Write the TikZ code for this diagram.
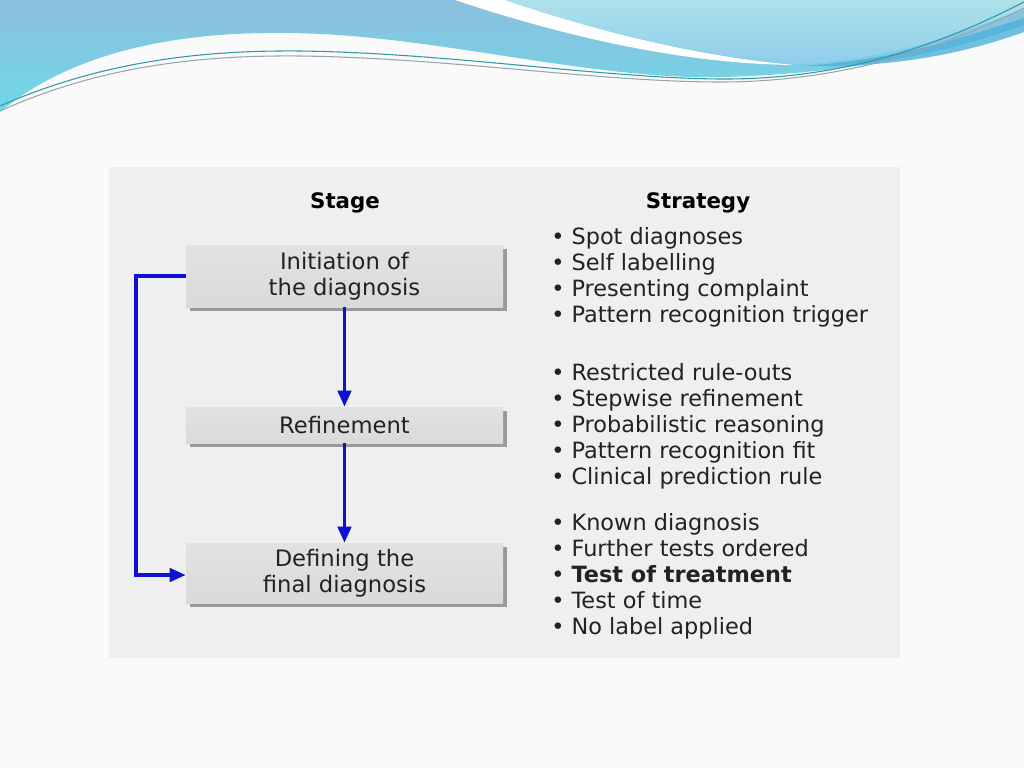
\documentclass[tikz,border=0pt]{standalone}
\usepackage{fontspec}
\setmainfont{DejaVu Sans}
\usetikzlibrary{arrows.meta,shadows}
\definecolor{pagebg}{HTML}{FAFAFA}
\definecolor{panel}{HTML}{EFEFEF}
\definecolor{boxfill}{HTML}{DADADA}
\definecolor{boxtop}{HTML}{E2E2E2}
\definecolor{shadowc}{HTML}{9A9A9A}
\definecolor{arrowblue}{HTML}{1010D0}
\definecolor{waveA}{HTML}{8CBFDF}
\definecolor{waveB}{HTML}{6FD8E6}
\definecolor{waveC}{HTML}{AEE2EA}
\definecolor{waveD}{HTML}{8FCDEB}
\definecolor{bandc}{HTML}{4DB2DA}
\definecolor{linea}{HTML}{2E9AA6}
\definecolor{lineb}{HTML}{9AA6AE}
\definecolor{txt}{HTML}{222222}
\tikzset{
  stagebox/.style={draw=none, top color=boxtop, bottom color=boxfill,
    minimum width=237.75pt, align=center, text=txt, inner sep=0pt,
    general shadow={fill=shadowc, shadow xshift=3pt, shadow yshift=-3pt},
    font=\fontsize{17}{19.5}\selectfont},
  header/.style={font=\fontsize{16}{19.5}\selectfont\bfseries, text=black},
  strat/.style={anchor=west, align=left, text=txt, inner sep=0pt,
    font=\fontsize{16.8}{19.5}\selectfont},
  flow/.style={draw=arrowblue, line width=2.5pt,
    -{Triangle[length=12pt,width=10pt]}}
}
\begin{document}
\begin{tikzpicture}[x=0.75pt,y=-0.75pt]
\useasboundingbox (0,0) rectangle (1024,768);
\fill[pagebg] (0,0) rectangle (1024,768);
% top waves
\shade[top color=waveA, bottom color=waveB]
  (0,0) -- (1024,0) -- (1024,25)
  .. controls (950,52) and (850,74) .. (720,77)
  .. controls (600,80) and (450,40) .. (320,34)
  .. controls (200,28) and (80,45) .. (0,112) -- cycle;
\fill[white] (455,0) .. controls (560,35) and (680,64) .. (795,65)
  .. controls (680,55) and (570,22) .. (505,0) -- cycle;
\shade[top color=waveC, bottom color=waveD]
  (505,0) .. controls (570,22) and (680,55) .. (795,64)
  .. controls (880,62) and (960,35) .. (1024,8) -- (1024,0) -- cycle;
\fill[bandc, opacity=0.8] (800,66) .. controls (900,60) and (970,35) .. (1024,18)
  -- (1024,32) .. controls (960,55) and (890,68) .. (800,66) -- cycle;
\draw[linea, line width=0.8pt] (0,106) .. controls (100,62) and (200,50) .. (300,51)
  .. controls (450,53) and (600,78) .. (720,79)
  .. controls (850,80) and (950,40) .. (1024,2);
\draw[lineb, line width=0.8pt] (0,111) .. controls (100,66) and (200,55) .. (300,56)
  .. controls (450,58) and (600,82) .. (720,82)
  .. controls (850,82) and (950,44) .. (1024,8);
% panel
\fill[panel] (109,167) rectangle (900,658);
% headers
\node[header] (hstage) at (345,203) {Stage};
\node[header] (hstrat) at (698,203) {Strategy};
% stage boxes
\node[stagebox, minimum height=46.5pt] (init) at (344.5,276) {Initiation of\\the diagnosis};
\node[stagebox, minimum height=27pt] (refine) at (344.5,425) {Refinement};
\node[stagebox, minimum height=45pt] (define) at (344.5,573) {Defining the\\final diagnosis};
% arrows
\draw[flow] (init.south) -- (refine.north);
\draw[flow] (refine.south) -- (define.north);
\coordinate (loopA) at (136,276);
\coordinate (loopB) at (136,575);
\draw[flow] (init.west |- loopA) -- (loopA) -- (loopB) -- (define.west |- loopB);
% strategies
\node[strat] (s1) at (551,277.5) {• Spot diagnoses\\• Self labelling\\• Presenting complaint\\• Pattern recognition trigger};
\node[strat] (s2) at (551,426.5) {• Restricted rule-outs\\• Stepwise refinement\\• Probabilistic reasoning\\• Pattern recognition fit\\• Clinical prediction rule};
\node[strat] (s3) at (551,576) {• Known diagnosis\\• Further tests ordered\\• \textbf{Test of treatment}\\• Test of time\\• No label applied};
\end{tikzpicture}
\end{document}
